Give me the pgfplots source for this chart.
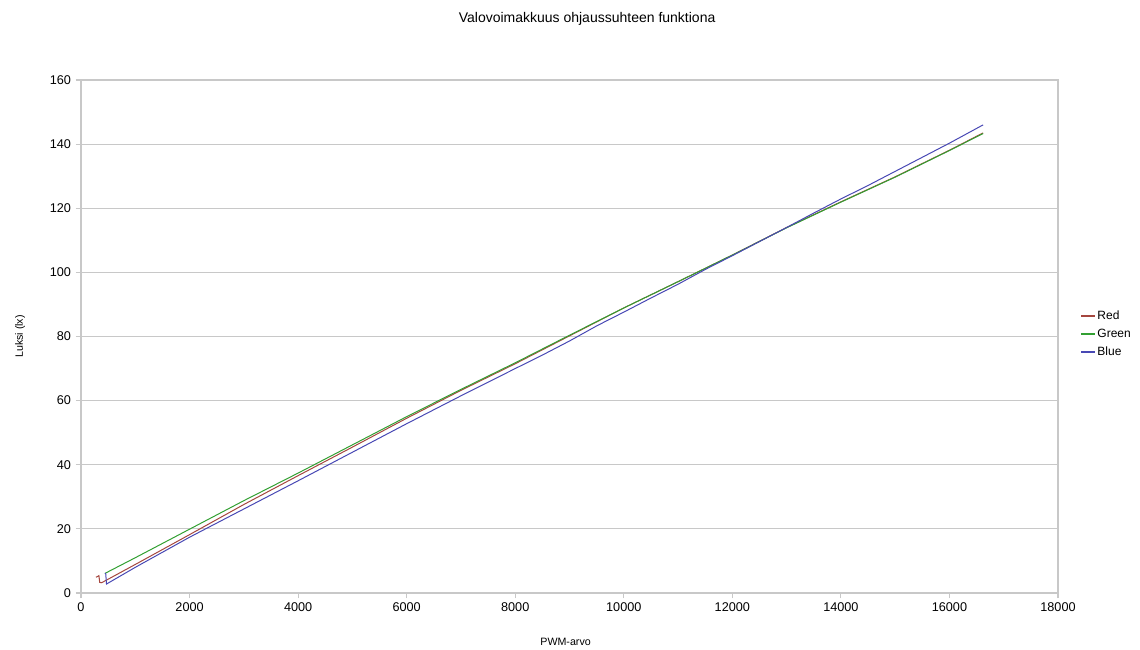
\documentclass[border=0pt]{standalone}
\usepackage{pgfplots}
\pgfplotsset{compat=1.18}
\usepackage{fontspec}
\setmainfont{Liberation Sans}
\definecolor{cRed}{RGB}{165,70,62}
\definecolor{cGreen}{RGB}{50,160,50}
\definecolor{cBlue}{RGB}{72,72,180}
\definecolor{gridc}{RGB}{200,200,200}
\begin{document}
\begin{tikzpicture}
\useasboundingbox (0,0) rectangle (855pt,487.5pt);
\begin{axis}[
  at={(60.75pt,42.75pt)}, anchor=south west,
  scale only axis, width=732.75pt, height=384.75pt,
  xmin=0, xmax=18000, ymin=0, ymax=160,
  xtick={0,2000,...,18000}, ytick={0,20,...,160},
  /pgf/number format/1000 sep={},
  /pgf/number format/assume math mode=true,
  scaled x ticks=false,
  tick label style={font=\fontsize{9.5pt}{11pt}\selectfont},
  tick align=outside, tick pos=left,
  major tick length=4pt,
  every tick/.style={gridc, line width=0.8pt},
  axis line style={gridc, line width=0.8pt},
  ymajorgrids, grid style={gridc, line width=0.8pt},
  title={Valovoimakkuus ohjaussuhteen funktiona},
  title style={at={(axis description cs:0.518,1.104)}, anchor=center, font=\fontsize{10.5pt}{12pt}\selectfont},
  xlabel={PWM-arvo},
  xlabel style={at={(axis description cs:0.496,-0.0955)}, anchor=center, font=\fontsize{8pt}{10pt}\selectfont},
  ylabel={Luksi (lx)},
  ylabel style={at={(axis description cs:-0.0624,0.5)}, anchor=center, rotate=0, font=\fontsize{8pt}{10pt}\selectfont},
  legend style={at={(axis description cs:1.021,0.505)}, anchor=west, draw=none, fill=none,
    font=\fontsize{9pt}{11pt}\selectfont, row sep=1.8pt, inner xsep=1pt,
    nodes={inner xsep=1pt}},
  legend cell align=left,
  legend image code/.code={\draw[#1, line width=1.5pt] (0pt,0pt) -- (10.5pt,0pt);},
  every axis plot/.append style={line width=0.75pt},
]
\addplot[cRed] coordinates {
(276,4.9) (330,5.4) (345,3.3) (380,3.2) (1000,8.9) (2000,18.2) (3000,27.6)
(4000,36.6) (5000,45.5) (6000,54.5) (7000,63.2) (8000,71.5) (9000,80.2)
(10000,88.9) (11000,97.1) (12000,105.4) (13000,114.0) (14000,122.0)
(15000,129.8) (16000,138.1) (16620,143.5)};
\addlegendentry{Red}
\addplot[cGreen] coordinates {
(440,6.1) (1000,11.0) (2000,19.9) (3000,28.8) (4000,37.4) (5000,46.2)
(6000,55.0) (7000,63.5) (8000,71.8) (9000,80.4) (10000,88.9) (11000,97.1)
(12000,105.4) (13000,113.9) (14000,121.9) (15000,129.7) (16000,138.0) (16620,143.3)};
\addlegendentry{Green}
\addplot[cBlue] coordinates {
(440,6.0) (455,6.1) (470,2.8) (1000,8.0) (2000,17.4) (3000,26.2) (4000,35.0)
(5000,43.9) (6000,52.8) (7000,61.5) (8000,70.0) (8500,74.2) (9000,78.6) (9500,83.3)
(10000,87.6) (10500,92.0) (11000,96.3) (11500,100.9) (12000,105.2) (12500,109.6)
(13000,114.0) (13500,118.5) (14000,122.9) (14500,127.1) (15000,131.5) (15500,135.9)
(16000,140.3) (16620,146.0)};
\addlegendentry{Blue}
\end{axis}
\end{tikzpicture}
\end{document}
